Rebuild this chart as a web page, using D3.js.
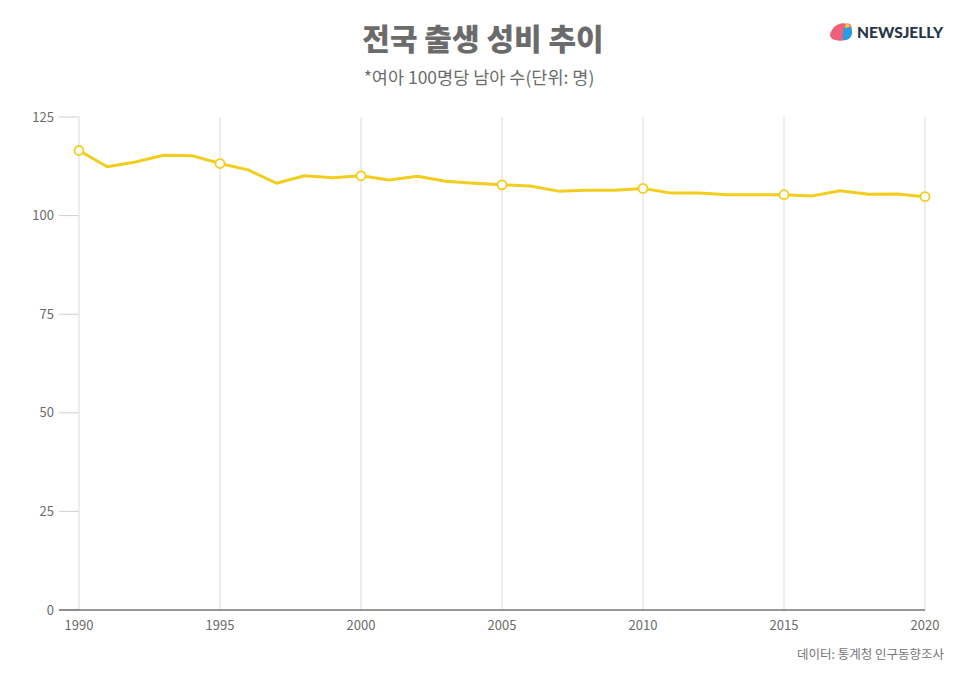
<!DOCTYPE html>
<html>
<head>
<meta charset="utf-8">
<script src="https://cdn.jsdelivr.net/npm/d3@7"></script>
<style>
body { margin: 0; background: #fff; }
svg { display: block; font-family: "Noto Sans CJK KR", "Noto Sans", sans-serif; }
</style>
</head>
<body>
<div id="chart"></div>
<script>
var years = d3.range(1990, 2021);
var ratio = [116.5, 112.4, 113.6, 115.3, 115.2, 113.2, 111.6, 108.2, 110.1, 109.6,
             110.1, 109.0, 110.0, 108.7, 108.2, 107.8, 107.5, 106.2, 106.4, 106.4,
             106.9, 105.7, 105.7, 105.3, 105.3, 105.3, 105.0, 106.3, 105.4, 105.5, 104.8];
var yTicks = [0, 25, 50, 75, 100, 125];
var xTicks = [1990, 1995, 2000, 2005, 2010, 2015, 2020];

var width = 966, height = 677;
var plotLeft = 79, plotRight = 925, plotTop = 117, plotBottom = 610;

var svg = d3.select("#chart").append("svg")
    .attr("width", width)
    .attr("height", height);

var x = d3.scaleLinear().domain([1990, 2020]).range([plotLeft, plotRight]);
var y = d3.scaleLinear().domain([0, 125]).range([plotBottom, plotTop]);

// title
svg.append("text")
    .attr("x", 483).attr("y", 50)
    .attr("text-anchor", "middle")
    .style("font-size", "30px").style("font-weight", "900")
    .style("fill", "#6b6b6b")
    .text("전국 출생 성비 추이");

svg.append("text")
    .attr("x", 479).attr("y", 84)
    .attr("text-anchor", "middle")
    .style("font-size", "17.5px")
    .style("fill", "#6b6b6b")
    .text("*여아 100명당 남아 수(단위: 명)");

// vertical grid
svg.selectAll(".vgrid")
    .data(xTicks)
    .enter().append("line")
    .attr("class", "vgrid")
    .attr("x1", function(d) { return x(d); })
    .attr("x2", function(d) { return x(d); })
    .attr("y1", plotTop)
    .attr("y2", plotBottom)
    .style("stroke", "#dcdcdc")
    .style("stroke-width", 1);

// y ticks
var yAxis = svg.append("g");
yAxis.selectAll("line")
    .data(yTicks)
    .enter().append("line")
    .attr("x1", plotLeft - 20).attr("x2", plotLeft)
    .attr("y1", function(d) { return y(d); })
    .attr("y2", function(d) { return y(d); })
    .style("stroke", "#d0d0d0");
yAxis.selectAll("text")
    .data(yTicks)
    .enter().append("text")
    .attr("x", plotLeft - 25)
    .attr("y", function(d) { return y(d); })
    .attr("dy", "0.35em")
    .attr("text-anchor", "end")
    .style("font-size", "13px")
    .style("fill", "#6b6b6b")
    .text(function(d) { return d; });

// x axis
svg.append("line")
    .attr("x1", plotLeft - 20).attr("x2", plotRight)
    .attr("y1", plotBottom).attr("y2", plotBottom)
    .style("stroke", "#333")
    .style("stroke-width", 1.2);

svg.selectAll(".xlab")
    .data(xTicks)
    .enter().append("text")
    .attr("class", "xlab")
    .attr("x", function(d) { return x(d); })
    .attr("y", plotBottom + 20)
    .attr("text-anchor", "middle")
    .style("font-size", "13px")
    .style("fill", "#6b6b6b")
    .text(function(d) { return d; });

// line
var data = years.map(function(yr, i) { return { year: yr, value: ratio[i] }; });
var line = d3.line()
    .x(function(d) { return x(d.year); })
    .y(function(d) { return y(d.value); });

svg.append("path")
    .attr("d", line(data))
    .style("fill", "none")
    .style("stroke", "#f2cd1e")
    .style("stroke-width", 3)
    .style("stroke-linejoin", "round");

svg.selectAll(".dot")
    .data(data.filter(function(d) { return d.year % 5 === 0; }))
    .enter().append("circle")
    .attr("class", "dot")
    .attr("cx", function(d) { return x(d.year); })
    .attr("cy", function(d) { return y(d.value); })
    .attr("r", 4.5)
    .style("fill", "#fff")
    .style("stroke", "#f2cd1e")
    .style("stroke-width", 1.8);

// source
svg.append("text")
    .attr("x", 944).attr("y", 659)
    .attr("text-anchor", "end")
    .style("font-size", "12.5px")
    .style("fill", "#777")
    .text("데이터: 통계청 인구동향조사");

// logo
var logo = svg.append("g").attr("transform", "translate(829,22)");
logo.append("path")
    .attr("d", "M3,8 C6,2 14,0 18,2 C22,0 24,6 22,12 C20,18 12,20 6,18 C0,16 0,12 3,8 Z")
    .style("fill", "#f0607a");
logo.append("path")
    .attr("d", "M16,4 C20,3 24,6 23,12 C22,16 18,19 14,18 C13,13 14,8 16,4 Z")
    .style("fill", "#2a9de0");
logo.append("path")
    .attr("d", "M17,1 C19,1 21,3 21,5 L16,6 Z")
    .style("fill", "#f6c445");
logo.append("text")
    .attr("x", 28).attr("y", 16)
    .style("font-family", "Lato, 'Noto Sans', sans-serif")
    .style("font-size", "15.5px").style("font-weight", "900")
    .style("fill", "#263646")
    .text("NEWSJELLY");
</script>
</body>
</html>
